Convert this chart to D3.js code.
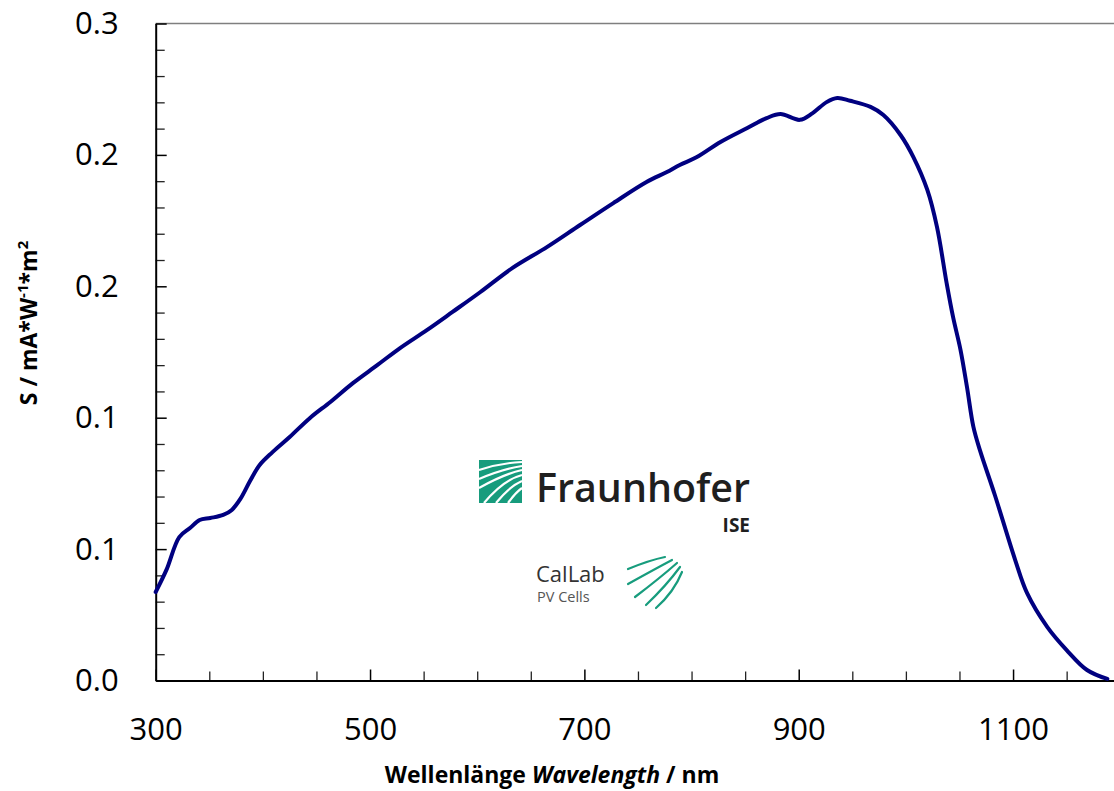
<!DOCTYPE html>
<html>
<head>
<meta charset="utf-8">
<script src="https://cdn.jsdelivr.net/npm/d3@7"></script>
<style>
  html, body { margin: 0; padding: 0; background: #fff; }
  svg { display: block; }
  text { font-family: "Open Sans", "Noto Sans", sans-serif; }
</style>
</head>
<body>
<svg id="chart" width="1114" height="791"></svg>
<script>
// ---- data ----
const wavelength = [300,310,322,332,341,351,363,371,379,388,397,409,425,444,463,484,507,528,553,577,603,633,665,696,727,758,777,789,805,827,852,870,883,901,913,926,936,948,967,979,995,1007,1020,1029,1038,1044,1051,1057,1063,1069,1083,1102,1113,1132,1150,1169,1188];
const response   = [0.0404,0.0505,0.0655,0.0696,0.0733,0.0742,0.0756,0.0779,0.0829,0.0911,0.0984,0.1043,0.1112,0.1199,0.1272,0.1358,0.1441,0.1518,0.1600,0.1683,0.1774,0.1884,0.1979,0.2080,0.2180,0.2276,0.2322,0.2354,0.2390,0.2459,0.2523,0.2568,0.2587,0.2560,0.2591,0.2641,0.2660,0.2647,0.2619,0.2582,0.2491,0.2390,0.2240,0.2071,0.1815,0.1660,0.1509,0.1340,0.1158,0.1053,0.0847,0.0550,0.0400,0.0244,0.0139,0.0048,0.0007];
const xMajorTicks = [300,500,700,900,1100];
const xMinorTicks = [350,400,450,550,600,650,750,800,850,950,1000,1050,1150,1200];
const yMajorTicks = [0,0.06,0.12,0.18,0.24,0.30];
const yMinorTicks = [0.012,0.024,0.036,0.048,0.072,0.084,0.096,0.108,0.132,0.144,0.156,0.168,0.192,0.204,0.216,0.228,0.252,0.264,0.276,0.288];
const xTitle = ["Wellenlänge ", "Wavelength", " / nm"];
const yTitle = ["S / mA*W", "-1", "*m", "2"];

(function () {
const svg = d3.select("#chart");
const mLeft = 155.7, mBottom = 680.5, mTop = 23.5;
const x = d3.scaleLinear().domain([300, 1200]).range([mLeft, mLeft + 900 * 1.0717]);
const y = d3.scaleLinear().domain([0, 0.3]).range([mBottom, mTop]);
const fmt = d3.format(".1f");

// top border
svg.append("line")
  .attr("x1", mLeft).attr("x2", 1114).attr("y1", mTop).attr("y2", mTop)
  .attr("stroke", "#7f7f7f").attr("stroke-width", 1.5);

// minor ticks
svg.append("g").attr("transform", `translate(0,${mBottom})`)
  .call(d3.axisBottom(x).tickValues(xMinorTicks).tickSize(-9).tickFormat(""))
  .call(g => g.select(".domain").remove())
  .call(g => g.selectAll("line").attr("stroke", "#222").attr("stroke-width", 1.3));
svg.append("g").attr("transform", `translate(${mLeft},0)`)
  .call(d3.axisLeft(y).tickValues(yMinorTicks).tickSize(-9).tickFormat(""))
  .call(g => g.select(".domain").remove())
  .call(g => g.selectAll("line").attr("stroke", "#222").attr("stroke-width", 1.3));

// major axes
const xAxis = svg.append("g").attr("transform", `translate(0,${mBottom})`)
  .call(d3.axisBottom(x).tickValues(xMajorTicks).tickSize(-11).tickSizeOuter(0).tickPadding(37.5).tickFormat(d3.format("d")));
const yAxis = svg.append("g").attr("transform", `translate(${mLeft},0)`)
  .call(d3.axisLeft(y).tickValues(yMajorTicks).tickSize(-11).tickSizeOuter(0).tickPadding(37).tickFormat(fmt));
[xAxis, yAxis].forEach(g => {
  g.select(".domain").attr("stroke", "#000").attr("stroke-width", 2);
  g.selectAll(".tick line").attr("stroke", "#000").attr("stroke-width", 1.5);
  g.selectAll(".tick text").attr("fill", "#000").style("font-size", "31px").style("font-family", "'Open Sans', sans-serif");
});

// logos (drawn behind the curve)
const logo = svg.append("g");
const fg = "#179c7d";
logo.append("rect").attr("x", 479).attr("y", 460).attr("width", 43).attr("height", 43).attr("fill", fg);
const stripes = [
  "M479,470 Q500,463 522,462",
  "M479,479 Q503,469 522,466",
  "M479,488 Q504,474 522,470",
  "M484,503 Q503,480 522,475",
  "M496,503 Q510,486 522,481",
  "M508,503 Q516,492 522,488"
];
logo.selectAll("path.s").data(stripes).join("path")
  .attr("d", d => d).attr("fill", "none").attr("stroke", "#fff").attr("stroke-width", 2.2);
logo.append("text").attr("x", 536).attr("y", 502).text("Fraunhofer")
  .attr("textLength", 214).attr("lengthAdjust", "spacingAndGlyphs")
  .style("font-size", "40px").style("font-weight", 600).attr("fill", "#1f1f1f");
logo.append("text").attr("x", 750).attr("y", 532).attr("text-anchor", "end").text("ISE")
  .style("font-size", "19px").style("font-weight", 700).attr("fill", "#1f1f1f");
logo.append("text").attr("x", 536).attr("y", 582).text("CalLab")
  .style("font-size", "22px").attr("fill", "#333");
logo.append("text").attr("x", 537).attr("y", 602).text("PV Cells")
  .style("font-size", "14.5px").attr("fill", "#555");
const arcs = [
  "M628,569 Q650,560 665,557",
  "M628,584 Q655,569 672,560",
  "M635,597 Q660,578 677,563",
  "M646,605 Q666,586 680,567",
  "M656,608 Q674,592 682,572"
];
logo.selectAll("path.a").data(arcs).join("path")
  .attr("d", d => d).attr("fill", "none").attr("stroke", fg).attr("stroke-width", 2.2).attr("stroke-linecap", "round");

// curve
const line = d3.line().x((d, i) => x(wavelength[i])).y(d => y(d)).curve(d3.curveCatmullRom.alpha(0.5));
svg.append("path").datum(response)
  .attr("d", line).attr("fill", "none").attr("stroke", "#000080").attr("stroke-width", 4)
  .attr("stroke-linejoin", "round").attr("stroke-linecap", "round");

// axis titles
const xt = svg.append("text").attr("x", 552).attr("y", 783).attr("text-anchor", "middle")
  .style("font-size", "23px").style("font-weight", 700).attr("fill", "#000");
xt.append("tspan").text(xTitle[0]);
xt.append("tspan").text(xTitle[1]).style("font-style", "italic");
xt.append("tspan").text(xTitle[2]);

const yt = svg.append("text").attr("transform", "translate(37,323) rotate(-90)").attr("text-anchor", "middle")
  .style("font-size", "23px").style("font-weight", 700).attr("fill", "#000");
yt.append("tspan").text(yTitle[0]);
yt.append("tspan").text(yTitle[1]).attr("dy", -9).style("font-size", "15px");
yt.append("tspan").text(yTitle[2]).attr("dy", 9);
yt.append("tspan").text(yTitle[3]).attr("dy", -9).style("font-size", "15px");
})();
</script>
</body>
</html>
